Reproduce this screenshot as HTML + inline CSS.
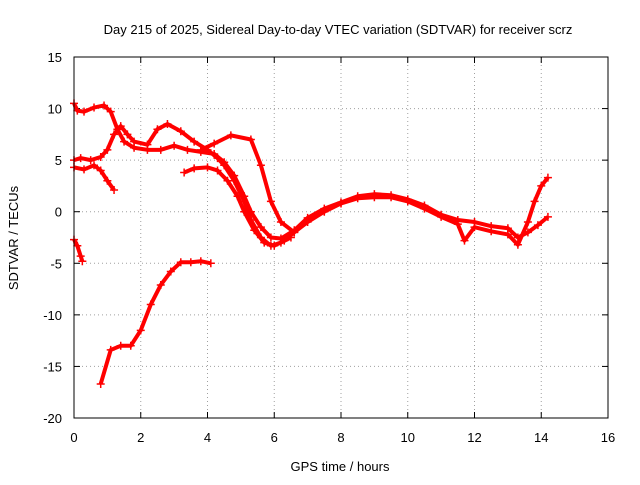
<!DOCTYPE html>
<html><head><meta charset="utf-8"><style>
body{margin:0;background:#fff}
svg{font-family:"Liberation Sans",sans-serif;font-size:13px}
</style></head><body>
<svg id="chart" width="640" height="480">
<text x="338" y="34" text-anchor="middle">Day 215 of 2025, Sidereal Day-to-day VTEC variation (SDTVAR) for receiver scrz</text>
<text x="340" y="471" text-anchor="middle">GPS time / hours</text>
<text transform="translate(18,238) rotate(-90)" text-anchor="middle">SDTVAR / TECUs</text>
<g id="grid"></g><g id="ticks"></g><g id="series"></g>
<rect x="74" y="57" width="534" height="361" fill="none" stroke="#000"/>
</svg>
<script>
const xTicks=[0,2,4,6,8,10,12,14,16];
const yTicks=[15,10,5,0,-5,-10,-15,-20];
const traceA=[[0,10.5],[0.1,9.8],[0.3,9.7],[0.6,10.1],[0.9,10.3],[1.1,9.7],[1.3,8.0],[1.5,6.8],[1.8,6.2],[2.2,6.0],[2.6,6.0],[3.0,6.4],[3.4,6.0],[3.8,5.8],[4.2,5.6],[4.5,4.8],[4.8,3.5],[5.1,1.5],[5.3,0.0],[5.6,-1.5],[5.9,-2.5],[6.2,-2.6],[6.6,-1.8],[7,-0.6],[7.5,0.3],[8,0.9],[8.5,1.5],[9,1.7],[9.5,1.6],[10,1.2],[10.5,0.6],[11,-0.3],[11.5,-0.8],[12,-1.0],[12.5,-1.4],[13,-1.6],[13.3,-2.5],[13.6,-2.0],[13.9,-1.3],[14.2,-0.5]];
const traceB=[[0,5.0],[0.2,5.2],[0.5,5.0],[0.8,5.3],[1.0,6.0],[1.2,7.5],[1.4,8.3],[1.6,7.5],[1.8,6.8],[2.2,6.5],[2.5,8.0],[2.8,8.5],[3.2,7.8],[3.6,6.8],[4.0,6.0],[4.3,5.2],[4.5,4.5],[4.8,3.0],[5.1,1.0],[5.3,-0.8],[5.6,-2.5],[5.9,-3.3],[6.2,-3.0],[6.5,-2.5]];
const traceC=[[0,4.3],[0.3,4.1],[0.6,4.5],[0.8,4.0],[1.0,3.0],[1.2,2.1]];
const traceD=[[0,-2.7],[0.1,-3.3],[0.2,-4.3],[0.25,-4.8]];
const traceE=[[0.8,-16.7],[1.1,-13.4],[1.4,-13],[1.7,-13],[2,-11.5],[2.3,-9],[2.6,-7.1],[2.9,-5.8],[3.2,-4.9],[3.5,-4.9],[3.8,-4.8],[4.1,-5.0]];
const traceF=[[3.8,6.0],[4.2,6.6],[4.7,7.4],[5.3,7.0],[5.6,4.5],[5.9,1.0],[6.2,-1.0],[6.6,-2.0]];
const traceG=[[3.3,3.8],[3.6,4.2],[4.0,4.3],[4.3,4.0],[4.6,3.0],[4.9,1.5],[5.1,0],[5.4,-1.8],[5.7,-3],[6,-3.3],[6.3,-2.8],[6.6,-2.0],[7,-1],[7.5,0],[8,0.8],[8.5,1.3],[9,1.4],[9.5,1.4],[10,1.0],[10.5,0.3],[11,-0.5],[11.5,-1.2],[11.7,-2.8],[12,-1.5],[12.5,-1.9],[13,-2.2],[13.3,-3.2],[13.6,-1],[13.8,1],[14,2.5],[14.2,3.3]];
const traces=[traceA,traceB,traceC,traceD,traceE,traceF,traceG];
const X=t=>74+t*(534/16), Y=v=>57+(15-v)*(361/35);
const NS="http://www.w3.org/2000/svg";
function mk(tag,attrs,parent){const e=document.createElementNS(NS,tag);for(const k in attrs)e.setAttribute(k,attrs[k]);parent.appendChild(e);return e;}
const grid=document.getElementById('grid'),ticks=document.getElementById('ticks'),ser=document.getElementById('series');
xTicks.forEach(t=>{
 if(t>0&&t<16){const g=mk('line',{x1:X(t),x2:X(t),y1:57,y2:418,stroke:'#a0a0a0','stroke-dasharray':'1,3'},grid);
 
 }
 const l=mk('text',{x:X(t),y:442,'text-anchor':'middle'},ticks);l.textContent=t;
 
 
 mk('line',{x1:X(t),x2:X(t),y1:418,y2:412,stroke:'#000'},ticks);
 mk('line',{x1:X(t),x2:X(t),y1:57,y2:63,stroke:'#000'},ticks);
});
yTicks.forEach(v=>{
 if(v<15&&v>-20){const g=mk('line',{x1:74,x2:608,y1:Y(v),y2:Y(v),stroke:'#a0a0a0','stroke-dasharray':'1,3'},grid);
 
 }
 const l=mk('text',{x:62,y:Y(v)+5,'text-anchor':'end'},ticks);l.textContent=v;
 
 
 mk('line',{x1:74,x2:80,y1:Y(v),y2:Y(v),stroke:'#000'},ticks);
 mk('line',{x1:608,x2:602,y1:Y(v),y2:Y(v),stroke:'#000'},ticks);
});
traces.forEach((tr,i)=>{
 const p=mk('polyline',{points:tr.map(d=>X(d[0])+','+Y(d[1])).join(' '),fill:'none',stroke:'#f00','stroke-width':4,'stroke-linejoin':'round'},ser);
 
 
 tr.forEach(d=>{
  const m=mk('path',{d:`M${X(d[0])-4},${Y(d[1])}h8M${X(d[0])},${Y(d[1])-4}v8`,stroke:'#f00','stroke-width':1.5},ser);
  
  
 });
});
</script>
</body></html>
